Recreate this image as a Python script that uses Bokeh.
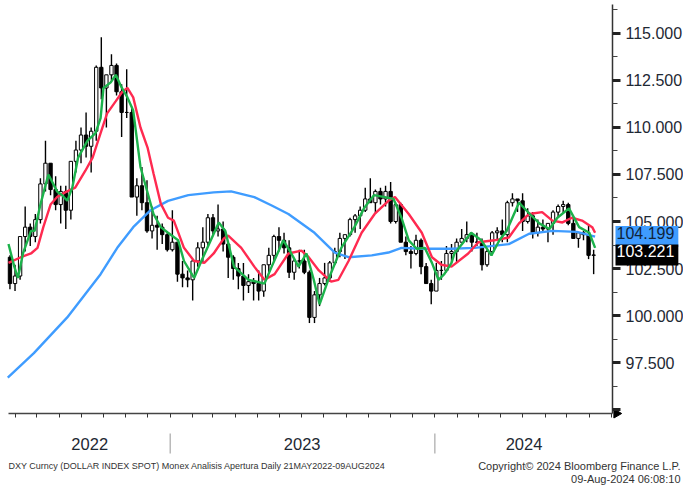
import math
import pandas as pd
from bokeh.plotting import figure
from bokeh.models import (Range1d, FixedTicker, MonthsTicker, CustomJSTickFormatter,
                          Label, ColumnDataSource)
from bokeh.embed import file_html
from bokeh.resources import INLINE

# ---------------- data ----------------
week_ending = pd.date_range("2022-05-27", "2024-08-09", freq="W-FRI")
first_open = 103.1

close_2022 = [101.7, 102.1, 104.2, 104.7, 104.2, 105.1, 107.0, 108.1, 106.7, 105.9,
              106.6, 105.6, 108.2, 108.8, 109.6, 109.0, 109.8, 113.2, 112.1, 112.8,
              113.3, 111.9, 110.8, 110.8, 106.3, 106.9, 106.0, 104.5, 104.8, 104.7,
              104.3, 103.5]
high_2022 = [103.2, 102.7, 104.2, 105.8, 104.9, 105.4, 107.3, 109.3, 108.1, 107.4,
             106.9, 106.9, 108.2, 109.3, 110.0, 110.8, 110.0, 113.3, 114.8, 112.8,
             113.9, 113.4, 112.3, 113.1, 111.1, 107.3, 107.9, 107.2, 105.8, 105.3,
             104.9, 104.5]
low_2022 = [101.4, 101.3, 101.9, 103.4, 103.7, 103.9, 104.9, 106.6, 106.4, 105.6,
            104.9, 104.6, 105.1, 107.6, 108.1, 108.4, 107.6, 109.3, 111.5, 110.0,
            112.5, 111.7, 109.5, 110.5, 106.3, 105.3, 105.6, 104.4, 104.1, 103.5,
            103.8, 103.4]

close_2023 = [103.9, 102.2, 102.0, 101.9, 102.9, 103.6, 103.9, 105.2, 104.5, 104.6,
              103.8, 103.1, 102.5, 102.1, 101.6, 101.8, 101.7, 101.3, 102.7, 103.2,
              104.2, 104.0, 103.6, 102.3, 102.9, 102.9, 102.3, 99.9, 101.1, 101.7,
              102.0, 102.8, 103.4, 104.1, 104.3, 105.1, 105.3, 105.6, 106.2, 106.0,
              106.6, 106.2, 106.6, 105.0, 105.9, 103.9, 103.4, 103.3, 104.0, 102.6,
              101.7, 101.3]
high_2023 = [105.6, 103.9, 102.9, 102.4, 103.0, 103.9, 104.7, 105.4, 105.4, 105.9,
             105.0, 103.9, 103.2, 102.8, 102.8, 102.2, 102.0, 102.4, 102.7, 103.6,
             104.3, 104.7, 104.4, 104.0, 103.0, 103.5, 103.5, 102.4, 101.3, 102.0,
             102.8, 102.9, 103.6, 104.4, 104.2, 105.2, 105.4, 105.8, 106.8, 107.3,
             106.7, 106.8, 106.9, 107.1, 106.0, 106.0, 104.2, 103.7, 104.3, 104.1,
             102.8, 101.9]
low_2023 = [103.4, 101.8, 101.5, 101.5, 100.8, 102.6, 102.8, 103.7, 104.3, 104.2,
            103.4, 102.0, 101.9, 101.4, 100.8, 101.2, 100.8, 100.8, 101.0, 102.3,
            102.9, 103.4, 103.3, 102.0, 101.9, 102.5, 102.2, 99.6, 99.6, 100.5,
            101.6, 101.8, 102.7, 103.1, 103.0, 104.2, 104.4, 104.6, 105.5, 106.0,
            105.4, 105.9, 105.8, 104.9, 104.9, 103.9, 103.2, 102.5, 103.2, 102.2,
            101.8, 100.6]

close_2024 = [102.4, 102.4, 103.3, 103.4, 103.9, 104.1, 104.3, 103.9, 103.9, 102.7,
              103.4, 104.4, 104.5, 104.3, 106.0, 106.2, 106.1, 105.0, 105.3, 104.4,
              104.7, 104.6, 104.9, 105.5, 105.8, 105.9, 104.9, 104.1, 104.4, 104.3,
              103.2, 103.221]
high_2024 = [102.8, 102.9, 103.7, 103.8, 104.1, 104.6, 105.0, 104.4, 104.4, 104.1,
             103.5, 104.5, 104.7, 105.1, 106.1, 106.5, 106.2, 106.5, 105.7, 105.5,
             105.1, 105.1, 104.9, 105.6, 105.9, 106.1, 106.0, 105.2, 104.4, 104.5,
             104.8, 103.5]
low_2024 = [101.3, 101.9, 102.3, 102.8, 102.8, 103.9, 103.9, 103.4, 103.7, 102.4,
            102.6, 103.2, 104.0, 103.9, 103.9, 105.8, 105.5, 104.5, 104.9, 104.1,
            104.2, 104.5, 103.9, 104.3, 105.2, 105.4, 104.8, 104.1, 103.6, 104.0,
            103.0, 102.2]

green_dates = ["2022-05-23", "2022-05-31", "2022-06-05", "2022-06-12", "2022-06-23", "2022-06-28",
               "2022-07-06", "2022-07-17", "2022-07-29", "2022-08-05", "2022-08-12", "2022-08-19",
               "2022-08-27", "2022-09-09", "2022-09-20", "2022-09-27", "2022-10-01", "2022-10-11",
               "2022-10-18", "2022-10-25", "2022-11-03", "2022-11-11", "2022-11-21", "2022-12-01",
               "2022-12-09", "2022-12-19", "2022-12-29", "2023-01-12", "2023-01-20", "2023-02-03",
               "2023-02-13", "2023-02-26", "2023-03-09", "2023-03-18", "2023-03-30", "2023-04-19",
               "2023-05-11", "2023-05-21", "2023-06-06", "2023-06-17", "2023-06-27", "2023-07-08",
               "2023-07-18", "2023-07-26", "2023-08-07", "2023-08-25", "2023-09-12", "2023-09-26",
               "2023-10-09", "2023-10-24", "2023-11-05", "2023-11-16", "2023-11-26", "2023-12-07",
               "2023-12-18", "2023-12-28", "2024-01-06", "2024-01-14", "2024-01-24", "2024-01-28",
               "2024-02-20", "2024-03-05", "2024-03-19", "2024-03-30", "2024-04-09", "2024-04-26",
               "2024-05-11", "2024-05-24", "2024-06-07", "2024-06-18", "2024-07-04", "2024-07-18",
               "2024-08-01", "2024-08-09"]
green_vals = [103.8, 102.6, 102.0, 103.3, 104.5, 104.5,
              105.9, 107.5, 106.6, 106.4, 106.1, 106.8,
              108.4, 109.3, 109.7, 110.5, 112.1, 112.4,
              112.8, 112.2, 111.6, 110.9, 107.9, 106.5,
              105.4, 104.7, 104.4, 104.0, 102.9, 102.0,
              102.9, 104.0, 104.95, 104.5, 102.6, 101.9,
              101.7, 102.6, 104.0, 103.3, 102.6, 103.3,
              101.9, 100.6, 101.9, 103.6, 104.7, 105.75,
              106.4, 106.3, 106.2, 105.2, 104.0, 103.55,
              103.6, 102.8, 101.9, 102.2, 102.8, 103.3,
              104.4, 104.0, 103.2, 104.0, 104.5, 106.0,
              105.4, 104.9, 104.6, 105.2, 105.7, 104.7,
              104.4, 103.6]

red_dates = ["2022-05-23", "2022-06-09", "2022-06-23", "2022-07-02", "2022-07-10", "2022-07-20",
             "2022-07-29", "2022-08-09", "2022-08-23", "2022-09-06", "2022-09-16", "2022-09-27",
             "2022-10-06", "2022-10-18", "2022-10-27", "2022-11-03", "2022-11-11", "2022-11-21",
             "2022-12-01", "2022-12-09", "2022-12-19", "2022-12-29", "2023-01-06", "2023-01-20",
             "2023-02-03", "2023-02-17", "2023-03-02", "2023-03-16", "2023-03-22", "2023-04-09",
             "2023-04-27", "2023-05-11", "2023-05-25", "2023-06-13", "2023-07-01", "2023-07-11",
             "2023-07-25", "2023-08-11", "2023-08-21", "2023-09-04", "2023-09-22", "2023-10-10",
             "2023-10-29", "2023-11-07", "2023-11-26", "2023-12-14", "2023-12-28", "2024-01-10",
             "2024-01-24", "2024-02-16", "2024-03-01", "2024-03-23", "2024-04-12", "2024-04-26",
             "2024-05-10", "2024-05-28", "2024-06-11", "2024-06-25", "2024-07-08", "2024-07-22",
             "2024-08-05", "2024-08-09"]
red_vals = [102.8, 103.1, 103.3, 103.6, 104.7, 105.9,
            106.3, 106.55, 106.8, 107.7, 108.4, 109.7,
            110.75, 111.4, 111.9, 112.1, 111.6, 110.0,
            108.9, 107.55, 105.95, 105.2, 105.05, 103.6,
            102.9, 102.8, 103.3, 104.1, 104.25, 103.6,
            102.6, 101.9, 102.2, 103.3, 103.45, 103.1,
            102.4, 101.8, 101.9, 102.9, 104.4, 105.4,
            106.1, 106.3, 105.4, 104.4, 103.1, 102.7,
            102.6, 103.3, 103.9, 104.0, 104.15, 104.9,
            105.4, 105.5, 105.05, 104.95, 105.2, 105.05,
            104.7, 104.4]

blue_dates = ["2022-05-22", "2022-06-27", "2022-08-12", "2022-09-27", "2022-10-20", "2022-11-11",
              "2022-12-05", "2022-12-29", "2023-01-26", "2023-03-02", "2023-03-26", "2023-04-27",
              "2023-05-21", "2023-06-13", "2023-07-19", "2023-08-16", "2023-09-04", "2023-10-06",
              "2023-10-29", "2023-11-16", "2023-12-14", "2024-01-24", "2024-02-25", "2024-04-12",
              "2024-05-10", "2024-06-11", "2024-07-15", "2024-08-09"]
blue_vals = [96.7, 98.0, 99.9, 102.2, 103.6, 104.7,
             105.6, 106.1, 106.4, 106.55, 106.6, 106.3,
             105.85, 105.4, 104.4, 103.35, 103.1, 103.2,
             103.35, 103.6, 103.55, 103.55, 103.6, 103.8,
             104.35, 104.5, 104.45, 104.199]

years = ["2022", "2023", "2024"]
year_label_dates = ["2022-09-12", "2023-07-02", "2024-05-03"]
year_boundaries = ["2023-01-01", "2024-01-01"]
y_major_ticks = [95.0, 97.5, 100.0, 102.5, 105.0, 107.5, 110.0, 112.5, 115.0]
y_minor_ticks = [96.25, 98.75, 101.25, 103.75, 106.25, 108.75, 111.25, 113.75, 116.25]
last_price = 103.221
ma_long_last = 104.199

footer_left = "DXY Curncy (DOLLAR INDEX SPOT) Monex Analisis Apertura  Daily 21MAY2022-09AUG2024"
footer_right1 = "Copyright\u00a9 2024 Bloomberg Finance L.P."
footer_right2 = "09-Aug-2024 06:08:10"

# ---------------- layout constants ----------------
DAY = 86400000
FONT = "Liberation Sans"
TXT = "#1e2833"
W, H = 683, 487                  # canvas; the frame fills it
LEFT, RIGHT = 8, 612             # pixel columns of x0 and of the right axis
TOP, BOTTOM = 4, 413             # pixel rows of the axis top and the bottom axis

x0 = pd.Timestamp("2022-05-23")  # value at LEFT
x1 = pd.Timestamp("2024-09-02")  # value at RIGHT (right axis position)
y0, y1 = 94.79, 116.54           # values at BOTTOM and TOP
dpp = (x1 - x0) / (RIGHT - LEFT)
upp = (y1 - y0) / (BOTTOM - TOP)
x_start, x_end = x0 - dpp * LEFT, x0 + dpp * (W - LEFT)
y_lo, y_hi = y0 - upp * (H - BOTTOM), y1 + upp * TOP

# ---------------- candles ----------------
closes = close_2022 + close_2023 + close_2024
highs = high_2022 + high_2023 + high_2024
lows = low_2022 + low_2023 + low_2024
opens = [first_open] + closes[:-1]
centers = week_ending - pd.Timedelta(days=2)
src = ColumnDataSource(dict(
    t=centers, h=highs, l=lows,
    top=[max(o, c) for o, c in zip(opens, closes)],
    bottom=[min(o, c) for o, c in zip(opens, closes)],
    fill=["white" if c >= o else "black" for o, c in zip(opens, closes)],
))

p = figure(width=W, height=H, x_axis_type="datetime",
           x_range=Range1d(x_start, x_end), y_range=Range1d(y_lo, y_hi),
           y_axis_location="right", output_backend="svg", toolbar_location=None,
           min_border_left=0, min_border_top=0, min_border_right=0, min_border_bottom=0)
p.xgrid.visible = False
p.ygrid.visible = False
p.outline_line_color = None
p.background_fill_color = "white"
p.border_fill_color = "white"

p.segment(x0="t", y0="l", x1="t", y1="h", source=src, line_color="black", line_width=1.4)
p.vbar(x="t", width=4.6 * DAY, top="top", bottom="bottom", fill_color="fill",
       line_color="black", line_width=1, source=src)

p.line(pd.to_datetime(blue_dates), blue_vals, line_color="#3f9cff", line_width=2.4)
p.line(pd.to_datetime(red_dates), red_vals, line_color="#ff2a50", line_width=2.4)
p.line(pd.to_datetime(green_dates), green_vals, line_color="#1cb24b", line_width=2.4)

# right axis, standing at x1
ya = p.yaxis[0]
ya.fixed_location = x1.value / 1e6
ya.bounds = (y0, y1)
ya.ticker = FixedTicker(ticks=y_major_ticks, minor_ticks=y_minor_ticks)
ya.formatter = CustomJSTickFormatter(code="return tick < 96 ? '' : tick.toFixed(3);")
ya.axis_line_color = "#333333"
ya.axis_line_width = 1.5
ya.major_tick_in = 0
ya.major_tick_out = 8
ya.major_tick_line_width = 3
ya.major_tick_line_color = "#222222"
ya.minor_tick_in = 0
ya.minor_tick_out = 5
ya.minor_tick_line_color = "#444444"
ya.major_label_standoff = 5
ya.major_label_text_font = FONT
ya.major_label_text_font_size = "16px"
ya.major_label_text_color = TXT

# bottom axis, standing at y0
xa = p.xaxis[0]
xa.fixed_location = y0
xa.bounds = (x0, x1)
xa.ticker = MonthsTicker(months=list(range(12)))
xa.formatter = CustomJSTickFormatter(code="return '';")
xa.axis_line_color = "#444444"
xa.axis_line_width = 1.5
xa.major_tick_in = 0
xa.major_tick_out = 4
xa.major_tick_line_color = "#333333"
xa.minor_tick_in = 0
xa.minor_tick_out = 0

# arrow head at the end of the bottom axis
p.scatter(x=[x1 + dpp * 4], y=[y0], marker="triangle", angle=-math.pi / 2, size=9,
          fill_color="black", line_color="black")

# year separators and labels under the axis
bnd = pd.to_datetime(year_boundaries)
p.segment(x0=bnd, x1=bnd, y0=[y0 - 20 * upp] * len(bnd),
          y1=[y0 - 40 * upp] * len(bnd), line_color="#a8a8a8", line_width=1.2)
for yr, d in zip(years, year_label_dates):
    p.add_layout(Label(x=pd.Timestamp(d).value / 1e6, y=H - 443, x_units="data", y_units="screen",
                       text=yr, text_font=FONT, text_font_size="16.5px", text_color=TXT,
                       text_align="center", text_baseline="middle"))

# footers
p.add_layout(Label(x=LEFT, y=H - 465, x_units="screen", y_units="screen", text=footer_left,
                   text_font=FONT, text_font_size="9px", text_color="#333333",
                   text_align="left", text_baseline="middle"))
p.add_layout(Label(x=680, y=H - 465, x_units="screen", y_units="screen", text=footer_right1,
                   text_font=FONT, text_font_size="11px", text_color="#333333",
                   text_align="right", text_baseline="middle"))
p.add_layout(Label(x=680, y=H - 478, x_units="screen", y_units="screen", text=footer_right2,
                   text_font=FONT, text_font_size="11px", text_color="#333333",
                   text_align="right", text_baseline="middle"))

# value tags on the right
p.add_layout(Label(x=RIGHT + 3, y=ma_long_last, x_units="screen", y_units="data",
                   text=f"{ma_long_last:.3f}", text_font=FONT, text_font_size="16px",
                   text_color="#10243a", text_align="left", text_baseline="middle",
                   background_fill_color="#3f9cff", padding=[1, 4, 1, 8]))
p.add_layout(Label(x=RIGHT + 3, y=last_price, x_units="screen", y_units="data",
                   text=f"{last_price:.3f}", text_font=FONT, text_font_size="16px",
                   text_color="white", text_align="left", text_baseline="middle",
                   background_fill_color="black", padding=[1, 4, 1, 8]))

open("out.html", "w").write(file_html(p, INLINE))
